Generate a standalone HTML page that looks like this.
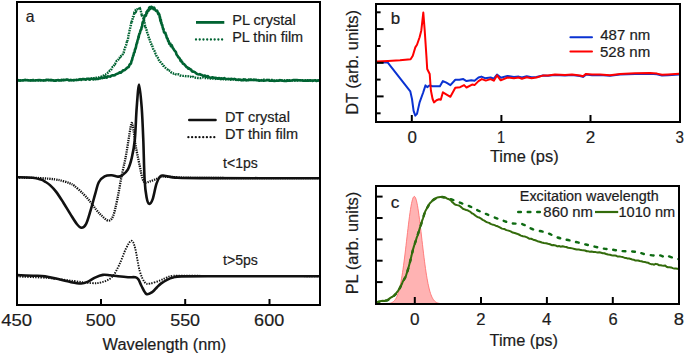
<!DOCTYPE html>
<html><head><meta charset="utf-8"><style>
html,body{margin:0;padding:0;background:#fff;width:685px;height:354px;overflow:hidden;font-family:"Liberation Sans",sans-serif;}
svg{display:block;}
</style></head><body>
<svg width="685" height="354" viewBox="0 0 685 354">
<rect width="685" height="354" fill="#fff"/>
<path d="M17.00,80.06 L18.20,80.33 L19.64,80.17 L21.29,80.38 L23.14,80.39 L25.15,79.88 L27.31,79.83 L29.59,80.56 L31.97,80.04 L34.43,80.01 L36.94,80.68 L39.48,80.20 L42.03,80.52 L44.57,80.19 L47.07,80.32 L49.51,79.87 L51.86,80.29 L54.11,80.48 L56.24,80.16 L58.21,80.34 L60.00,80.25 L61.67,79.69 L63.28,80.30 L64.84,80.13 L66.35,79.85 L67.80,79.59 L69.21,80.33 L70.57,79.96 L71.88,80.16 L73.15,80.29 L74.39,80.12 L75.58,80.28 L76.74,79.78 L77.87,80.12 L78.96,79.76 L80.03,80.17 L81.07,80.07 L82.08,79.32 L84.05,79.24 L85.92,79.17 L87.64,79.69 L89.19,79.02 L90.61,78.99 L91.91,78.47 L93.11,78.43 L94.23,78.07 L95.29,77.79 L96.31,77.76 L97.30,77.51 L98.29,77.56 L99.61,76.98 L100.77,76.84 L101.80,76.38 L102.75,76.10 L103.67,75.33 L104.59,74.33 L105.53,74.52 L106.44,74.08 L107.31,73.45 L108.15,72.49 L108.96,72.00 L109.74,70.75 L110.50,70.67 L111.22,69.53 L111.89,68.27 L112.53,67.01 L113.15,66.93 L113.76,66.09 L114.38,64.01 L115.01,63.98 L115.64,62.62 L116.27,61.43 L116.90,60.78 L117.53,60.60 L118.16,59.92 L118.79,57.95 L119.43,57.90 L120.11,56.27 L120.79,56.41 L121.47,55.02 L122.12,54.98 L122.74,54.25 L123.30,52.61 L123.80,52.38 L124.25,50.29 L124.66,48.86 L125.05,48.60 L125.41,46.57 L125.77,45.73 L126.12,44.98 L126.44,44.27 L126.74,42.45 L127.03,41.20 L127.31,41.55 L127.59,39.40 L127.89,39.29 L128.21,37.77 L128.43,35.78 L128.65,34.85 L128.86,33.84 L129.09,32.94 L129.32,31.69 L129.55,30.46 L129.79,29.44 L130.04,28.98 L130.30,27.01 L130.57,25.80 L130.86,25.34 L131.16,23.24 L131.46,22.30 L131.78,22.74 L132.09,20.71 L132.40,19.78 L132.86,17.16 L133.30,16.80 L133.72,16.04 L134.14,13.68 L134.54,14.14 L135.07,13.04 L135.60,10.64 L136.13,11.08 L136.66,9.78 L137.31,9.29 L138.08,7.70 L138.99,8.77 L139.65,9.75 L140.18,9.02 L140.70,10.29 L141.20,12.92 L141.69,14.76 L142.16,14.33 L142.51,15.80 L142.85,17.13 L143.18,17.55 L143.50,18.69 L143.79,19.60 L144.04,20.72 L144.28,22.22 L144.53,22.63 L144.81,23.94 L145.14,26.04 L145.54,25.92 L145.85,28.11 L146.18,29.60 L146.53,29.95 L146.90,31.04 L147.28,33.46 L147.67,33.66 L148.08,34.85 L148.48,36.58 L148.89,38.28 L149.31,38.36 L149.75,39.94 L150.21,41.15 L150.68,43.21 L151.16,43.70 L151.64,45.55 L152.11,45.52 L152.57,46.86 L153.00,48.37 L153.41,49.68 L153.96,50.24 L154.46,50.99 L154.92,51.81 L155.49,53.56 L156.01,54.09 L156.50,55.94 L156.98,56.96 L157.48,57.06 L158.10,58.23 L158.76,59.95 L159.37,60.63 L160.05,61.84 L160.80,62.28 L161.58,63.07 L162.39,64.30 L163.20,65.86 L164.02,66.12 L164.87,67.09 L165.75,68.04 L166.66,68.87 L167.59,69.64 L168.55,70.93 L169.53,70.73 L170.52,71.14 L171.54,72.66 L172.57,73.04 L173.65,73.57 L174.79,73.39 L175.98,74.33 L177.25,74.71 L178.57,74.39 L179.95,75.32 L181.38,75.78 L182.36,75.84 L183.37,75.92 L184.40,75.90 L185.46,76.15 L186.53,76.22 L187.94,76.29 L189.26,76.97 L190.66,76.83 L191.71,77.43 L192.94,76.80 L194.37,77.73 L196.08,77.65 L198.10,78.00 L199.24,78.05 L200.45,78.14 L201.73,77.92 L203.08,77.48 L204.49,78.26 L205.96,77.82 L207.48,78.03 L209.05,78.47 L210.66,78.44 L212.31,78.44 L213.99,79.03 L215.71,78.82 L217.45,78.67 L219.21,78.68 L220.99,79.33 L222.78,79.07 L224.59,79.43 L226.39,79.12 L228.20,79.05 L230.00,79.43 L231.81,79.75 L233.63,79.23 L235.48,79.85 L237.34,80.03 L239.22,79.98 L241.12,80.05 L243.04,79.36 L244.98,79.97 L246.95,80.23 L248.93,79.54 L250.94,79.78 L252.96,79.82 L255.01,80.09 L257.08,80.03 L259.18,80.11 L261.29,80.42 L263.43,79.76 L265.60,79.84 L267.79,79.93 L270.00,79.96 L272.31,79.94 L274.76,80.78 L277.33,80.70 L280.01,80.03 L282.77,80.43 L285.58,80.28 L288.44,80.29 L291.30,80.34 L294.17,80.62 L297.00,80.58 L299.78,80.39 L302.50,80.25 L305.11,80.39 L307.62,80.21 L309.98,80.61 L312.19,80.76 L314.22,80.47 L316.04,80.21 L317.64,80.30 L319.00,80.49 L319.00,80.69" fill="none" stroke="#006332" stroke-width="2.4" stroke-dasharray="1.6 1.0" />
<path d="M17.00,80.61 L18.20,80.16 L19.62,80.62 L21.24,80.42 L23.06,80.21 L25.03,80.14 L27.15,80.27 L29.39,80.50 L31.73,80.18 L34.15,80.48 L36.62,80.21 L39.14,79.97 L41.67,80.28 L44.20,80.44 L46.70,79.75 L49.16,80.12 L51.54,80.11 L53.84,80.59 L56.03,80.63 L58.09,79.99 L60.00,80.54 L61.82,80.39 L63.62,79.78 L65.40,79.97 L67.15,79.55 L68.88,80.27 L70.59,80.07 L72.26,80.27 L73.90,80.12 L75.50,79.94 L77.06,79.97 L78.59,79.73 L80.06,79.17 L81.50,79.66 L82.88,78.95 L84.21,79.06 L85.49,79.71 L86.71,78.84 L87.87,78.84 L88.97,78.80 L90.00,79.63 L90.95,78.79 L91.81,78.56 L93.29,79.39 L94.50,78.47 L95.48,79.18 L96.31,78.89 L97.36,78.91 L98.38,78.87 L99.54,78.26 L100.48,78.38 L101.42,77.37 L102.35,78.10 L103.28,77.67 L104.19,77.78 L105.10,76.92 L106.00,77.53 L106.89,77.59 L107.78,76.37 L108.66,76.49 L109.54,76.57 L110.42,76.66 L111.30,75.71 L112.18,75.38 L113.04,75.20 L113.90,75.37 L114.75,75.25 L115.59,74.49 L116.41,74.14 L117.21,73.84 L117.99,73.43 L118.76,73.14 L119.53,72.30 L120.28,72.44 L121.01,72.65 L121.73,71.46 L122.43,71.47 L123.11,70.22 L124.09,70.30 L125.00,69.76 L125.85,69.04 L126.66,68.23 L127.41,67.60 L128.12,67.22 L128.78,66.94 L129.40,65.04 L129.98,64.08 L130.49,64.13 L130.95,63.36 L131.37,61.62 L131.76,60.37 L132.13,59.74 L132.50,57.75 L132.84,56.87 L133.15,55.74 L133.43,55.46 L133.71,53.96 L133.99,52.78 L134.28,52.61 L134.61,52.02 L134.97,49.56 L135.22,49.61 L135.47,48.21 L135.72,48.31 L135.98,46.93 L136.24,45.41 L136.50,44.44 L136.75,43.14 L137.00,43.25 L137.25,42.12 L137.49,40.66 L137.74,40.08 L137.99,38.96 L138.23,38.99 L138.47,36.47 L138.71,37.53 L138.95,35.34 L139.18,34.75 L139.40,33.62 L139.72,33.51 L140.02,32.60 L140.32,31.15 L140.70,29.96 L140.99,29.81 L141.30,29.29 L141.61,27.02 L141.91,26.79 L142.12,26.63 L142.33,24.44 L142.54,22.93 L142.76,22.10 L142.98,22.64 L143.22,21.70 L143.47,21.73 L143.74,20.65 L144.03,18.03 L144.34,17.04 L144.67,16.41 L145.01,15.36 L145.34,16.14 L145.68,15.84 L146.15,14.92 L146.57,11.99 L147.03,13.02 L147.45,10.55 L147.99,10.27 L148.62,10.61 L149.16,7.87 L149.76,7.18 L150.40,9.00 L151.25,6.74 L152.15,7.09 L152.95,8.36 L153.57,9.22 L154.18,7.64 L154.78,9.30 L155.50,10.29 L156.30,11.01 L157.03,10.56 L157.70,12.28 L158.30,14.24 L158.74,13.42 L159.03,14.77 L159.31,14.41 L159.56,15.85 L159.80,17.94 L160.03,17.10 L160.29,20.24 L160.55,21.12 L160.82,19.62 L161.11,22.97 L161.42,22.34 L161.67,24.31 L161.95,25.19 L162.25,24.90 L162.56,26.98 L162.88,27.95 L163.19,29.35 L163.48,28.84 L163.76,30.96 L164.11,32.49 L164.46,32.60 L164.88,33.01 L165.36,32.81 L165.83,34.79 L166.27,35.52 L166.60,37.23 L166.94,38.01 L167.29,38.64 L167.66,38.65 L168.03,40.63 L168.39,41.44 L168.75,41.19 L169.27,43.77 L169.77,44.04 L170.27,43.52 L170.93,46.05 L171.61,45.13 L172.14,46.22 L172.69,47.85 L173.26,48.53 L173.86,49.45 L174.26,50.34 L174.67,50.68 L175.08,51.11 L175.49,51.56 L175.90,52.06 L176.50,54.31 L177.10,55.35 L177.70,55.93 L178.30,57.24 L178.90,57.49 L179.48,58.23 L180.04,59.28 L180.57,60.88 L181.15,60.33 L181.66,61.83 L182.20,62.11 L182.90,63.73 L183.60,63.77 L184.47,64.57 L185.14,65.30 L185.86,66.17 L186.61,67.18 L187.39,67.23 L188.19,68.63 L188.99,68.21 L189.77,69.05 L190.53,69.38 L191.26,69.91 L191.96,71.30 L192.65,71.66 L193.67,71.53 L194.70,72.09 L195.77,72.91 L196.51,73.67 L197.28,74.09 L198.10,74.32 L198.94,74.43 L199.79,74.16 L200.65,74.76 L201.54,74.78 L202.45,75.45 L203.40,75.75 L204.39,75.54 L205.43,75.84 L206.53,76.71 L207.70,76.03 L208.88,77.18 L210.06,77.50 L211.24,77.76 L212.47,77.29 L213.76,77.67 L215.14,77.89 L216.64,78.13 L217.44,78.62 L218.28,78.37 L219.16,78.01 L220.09,78.74 L221.07,78.39 L222.10,78.62 L223.18,78.85 L224.29,78.11 L225.44,79.08 L226.62,79.04 L227.84,78.94 L229.10,79.07 L230.39,79.09 L231.71,78.87 L233.06,79.34 L234.45,78.88 L235.87,79.48 L237.32,79.72 L238.80,79.58 L240.32,79.79 L241.86,80.30 L243.43,80.29 L245.03,79.53 L246.66,80.31 L248.32,80.18 L250.00,79.61 L251.74,79.99 L253.56,79.90 L255.45,79.76 L257.40,80.30 L259.41,80.76 L261.46,80.12 L263.54,80.75 L265.66,80.57 L267.79,79.98 L269.93,80.79 L272.07,80.52 L274.21,80.89 L276.33,80.67 L278.43,80.70 L280.49,80.28 L282.51,80.80 L284.48,80.94 L286.39,80.88 L288.23,80.42 L290.00,80.78 L291.73,80.50 L293.48,80.09 L295.22,80.03 L296.97,80.08 L298.70,80.22 L300.42,80.18 L302.12,80.56 L303.78,80.79 L305.41,80.61 L307.00,80.49 L308.54,80.74 L310.02,80.37 L311.43,80.55 L312.78,80.87 L314.05,80.48 L315.23,80.24 L316.33,81.03 L317.32,80.84 L318.22,80.45 L319.00,80.46" fill="none" stroke="#006332" stroke-width="2.6" stroke-linejoin="round" />
<path d="M17.00,177.60 C20.83,177.68 33.67,177.80 40.00,178.10 C46.33,178.40 51.15,178.90 55.00,179.40 C58.85,179.90 60.60,180.43 63.10,181.10 C65.60,181.77 68.17,182.65 70.00,183.40 C71.83,184.15 71.88,183.85 74.10,185.60 C76.32,187.35 80.55,191.13 83.30,193.90 C86.05,196.67 88.47,199.60 90.60,202.20 C92.73,204.80 94.28,207.28 96.10,209.50 C97.92,211.72 99.47,213.65 101.50,215.50 C103.53,217.35 106.38,220.48 108.30,220.60 C110.22,220.72 111.50,219.75 113.00,216.20 C114.50,212.65 115.88,205.88 117.30,199.30 C118.72,192.72 120.10,183.75 121.50,176.70 C122.90,169.65 124.53,163.12 125.70,157.00 C126.87,150.88 127.70,144.83 128.50,140.00 C129.30,135.17 129.95,130.83 130.50,128.00 C131.05,125.17 131.30,122.67 131.80,123.00 C132.30,123.33 132.85,126.17 133.50,130.00 C134.15,133.83 134.67,140.05 135.70,146.00 C136.73,151.95 138.57,160.28 139.70,165.70 C140.83,171.12 141.60,175.68 142.50,178.50 C143.40,181.32 143.85,182.13 145.10,182.60 C146.35,183.07 148.10,181.90 150.00,181.30 C151.90,180.70 154.67,179.75 156.50,179.00 C158.33,178.25 158.75,177.15 161.00,176.80 C163.25,176.45 163.50,176.72 170.00,176.90 C176.50,177.08 175.17,177.68 200.00,177.90 C224.83,178.12 299.17,178.15 319.00,178.20" fill="none" stroke="#111" stroke-width="2.3" stroke-dasharray="1.3 1.0" />
<path d="M17.00,177.20 C19.60,177.30 28.60,177.40 32.60,177.80 C36.60,178.20 38.93,178.97 41.00,179.60 C43.07,180.23 43.50,180.68 45.00,181.60 C46.50,182.52 48.17,183.43 50.00,185.10 C51.83,186.77 53.82,188.75 56.00,191.60 C58.18,194.45 60.70,198.45 63.10,202.20 C65.50,205.95 68.12,210.47 70.40,214.10 C72.68,217.73 74.97,221.72 76.80,224.00 C78.63,226.28 79.87,227.77 81.40,227.80 C82.93,227.83 84.47,227.10 86.00,224.20 C87.53,221.30 89.07,215.45 90.60,210.40 C92.13,205.35 93.82,198.63 95.20,193.90 C96.58,189.17 97.33,184.93 98.90,182.00 C100.47,179.07 102.48,177.42 104.60,176.30 C106.72,175.18 109.38,175.25 111.60,175.30 C113.82,175.35 116.18,176.55 117.90,176.60 C119.62,176.65 120.25,176.75 121.90,175.60 C123.55,174.45 126.15,172.67 127.80,169.70 C129.45,166.73 130.63,162.75 131.80,157.80 C132.97,152.85 133.98,148.35 134.80,140.00 C135.62,131.65 135.98,116.95 136.70,107.70 C137.42,98.45 138.27,84.50 139.10,84.50 C139.93,84.50 141.00,98.45 141.70,107.70 C142.40,116.95 142.82,128.02 143.30,140.00 C143.78,151.98 144.05,170.03 144.60,179.60 C145.15,189.17 145.83,193.37 146.60,197.40 C147.37,201.43 148.20,203.47 149.20,203.80 C150.20,204.13 151.38,202.77 152.60,199.40 C153.82,196.03 155.18,187.47 156.50,183.60 C157.82,179.73 159.17,177.52 160.50,176.20 C161.83,174.88 162.08,175.47 164.50,175.70 C166.92,175.93 169.08,177.20 175.00,177.60 C180.92,178.00 176.00,178.00 200.00,178.10 C224.00,178.20 299.17,178.18 319.00,178.20" fill="none" stroke="#111" stroke-width="2.6" stroke-linejoin="round" />
<path d="M17.00,276.50 C22.20,276.75 38.77,277.25 48.20,278.00 C57.63,278.75 66.40,280.15 73.60,281.00 C80.80,281.85 86.73,282.88 91.40,283.10 C96.07,283.32 98.20,283.28 101.60,282.30 C105.00,281.32 108.83,280.17 111.80,277.20 C114.77,274.23 117.03,269.28 119.40,264.50 C121.77,259.72 123.98,252.45 126.00,248.50 C128.02,244.55 129.97,240.80 131.50,240.80 C133.03,240.80 133.83,243.48 135.20,248.50 C136.57,253.52 138.10,265.27 139.70,270.90 C141.30,276.53 143.10,280.18 144.80,282.30 C146.50,284.42 147.35,283.90 149.90,283.60 C152.45,283.30 157.25,281.52 160.10,280.50 C162.95,279.48 164.30,278.30 167.00,277.50 C169.70,276.70 167.47,275.95 176.30,275.70 C185.13,275.45 196.22,275.92 220.00,276.00 C243.78,276.08 302.50,276.17 319.00,276.20" fill="none" stroke="#111" stroke-width="1.9" stroke-dasharray="1.4 1.2" />
<path d="M17.00,275.10 C20.07,275.20 30.73,275.48 35.40,275.70 C40.07,275.92 41.60,275.92 45.00,276.40 C48.40,276.88 51.45,277.63 55.80,278.60 C60.15,279.57 66.87,281.38 71.10,282.20 C75.33,283.02 78.38,283.60 81.20,283.50 C84.02,283.40 85.70,282.58 88.00,281.60 C90.30,280.62 92.52,278.72 95.00,277.60 C97.48,276.48 100.40,275.28 102.90,274.90 C105.40,274.52 107.48,275.07 110.00,275.30 C112.52,275.53 115.00,275.98 118.00,276.30 C121.00,276.62 125.08,277.03 128.00,277.20 C130.92,277.37 133.75,276.92 135.50,277.30 C137.25,277.68 137.50,278.05 138.50,279.50 C139.50,280.95 140.18,283.58 141.50,286.00 C142.82,288.42 144.57,293.03 146.40,294.00 C148.23,294.97 150.73,292.93 152.50,291.80 C154.27,290.67 155.55,288.60 157.00,287.20 C158.45,285.80 159.53,284.63 161.20,283.40 C162.87,282.17 165.02,280.78 167.00,279.80 C168.98,278.82 170.68,278.07 173.10,277.50 C175.52,276.93 173.68,276.62 181.50,276.40 C189.32,276.18 197.08,276.23 220.00,276.20 C242.92,276.17 302.50,276.20 319.00,276.20" fill="none" stroke="#111" stroke-width="2.6" stroke-linejoin="round" />
<rect x="17" y="2" width="303" height="303" fill="none" stroke="#000" stroke-width="2"/>
<line x1="101.0" y1="299" x2="101.0" y2="305" stroke="#000" stroke-width="2"/>
<line x1="185.2" y1="299" x2="185.2" y2="305" stroke="#000" stroke-width="2"/>
<line x1="269.5" y1="299" x2="269.5" y2="305" stroke="#000" stroke-width="2"/>
<line x1="196" y1="22.4" x2="224.3" y2="22.4" stroke="#006332" stroke-width="2.8"/>
<line x1="196.0" y1="39.5" x2="223.0" y2="39.5" stroke="#006332" stroke-width="2.3" stroke-linecap="round" stroke-dasharray="0.01 3.72"/>
<line x1="189.2" y1="120.0" x2="215.6" y2="120.0" stroke="#111" stroke-width="2.4" stroke-linecap="round"/>
<line x1="188.4" y1="137.2" x2="214.3" y2="137.2" stroke="#111" stroke-width="2.3" stroke-linecap="round" stroke-dasharray="0.01 3.69"/>
<text x="25.84" y="21.70" font-family="Liberation Sans, sans-serif" font-size="16.50" fill="#1c1c1c" stroke="#1c1c1c" stroke-width="0.2" textLength="8.76" lengthAdjust="spacingAndGlyphs">a</text>
<text x="232.20" y="24.80" font-family="Liberation Sans, sans-serif" font-size="14.60" fill="#1c1c1c" stroke="#1c1c1c" stroke-width="0.2" textLength="63.47" lengthAdjust="spacingAndGlyphs">PL crystal</text>
<text x="232.22" y="41.80" font-family="Liberation Sans, sans-serif" font-size="14.60" fill="#1c1c1c" stroke="#1c1c1c" stroke-width="0.2" textLength="70.94" lengthAdjust="spacingAndGlyphs">PL thin film</text>
<text x="224.91" y="122.00" font-family="Liberation Sans, sans-serif" font-size="14.00" fill="#1c1c1c" stroke="#1c1c1c" stroke-width="0.2" textLength="64.96" lengthAdjust="spacingAndGlyphs">DT crystal</text>
<text x="224.91" y="139.00" font-family="Liberation Sans, sans-serif" font-size="14.00" fill="#1c1c1c" stroke="#1c1c1c" stroke-width="0.2" textLength="73.15" lengthAdjust="spacingAndGlyphs">DT thin film</text>
<text x="223.09" y="167.70" font-family="Liberation Sans, sans-serif" font-size="14.50" fill="#1c1c1c" stroke="#1c1c1c" stroke-width="0.2" textLength="34.72" lengthAdjust="spacingAndGlyphs">t&lt;1ps</text>
<text x="222.99" y="264.50" font-family="Liberation Sans, sans-serif" font-size="14.30" fill="#1c1c1c" stroke="#1c1c1c" stroke-width="0.2" textLength="34.92" lengthAdjust="spacingAndGlyphs">t&gt;5ps</text>
<text x="1.27" y="326.40" font-family="Liberation Sans, sans-serif" font-size="17.00" fill="#1c1c1c" stroke="#1c1c1c" stroke-width="0.2" textLength="30.86" lengthAdjust="spacingAndGlyphs">450</text>
<text x="85.89" y="326.40" font-family="Liberation Sans, sans-serif" font-size="17.00" fill="#1c1c1c" stroke="#1c1c1c" stroke-width="0.2" textLength="29.82" lengthAdjust="spacingAndGlyphs">500</text>
<text x="170.24" y="326.40" font-family="Liberation Sans, sans-serif" font-size="17.00" fill="#1c1c1c" stroke="#1c1c1c" stroke-width="0.2" textLength="29.82" lengthAdjust="spacingAndGlyphs">550</text>
<text x="254.13" y="326.40" font-family="Liberation Sans, sans-serif" font-size="17.00" fill="#1c1c1c" stroke="#1c1c1c" stroke-width="0.2" textLength="30.03" lengthAdjust="spacingAndGlyphs">600</text>
<text x="102.62" y="349.50" font-family="Liberation Sans, sans-serif" font-size="16.00" fill="#1c1c1c" stroke="#1c1c1c" stroke-width="0.2" textLength="123.69" lengthAdjust="spacingAndGlyphs">Wavelength (nm)</text>
<path d="M377.00,62.30 L387.60,62.40 L410.30,91.40 L412.00,99.00 L413.60,110.80 L415.30,115.60 L417.00,113.90 L419.60,102.40 L423.00,93.00 L425.50,85.40 L427.20,87.10 L429.70,85.40 L432.30,86.30 L439.90,86.30 L442.90,81.10 L446.40,82.70 L450.40,85.10 L455.30,79.80 L459.30,79.80 L463.30,79.10 L466.50,81.10 L471.30,80.30 L474.50,80.70 L478.50,77.50 L481.40,76.60 L485.00,78.20 L490.60,77.50 L493.80,78.70 L497.00,74.60 L501.00,77.80 L507.40,75.90 L513.90,77.00 L518.70,76.60 L521.90,77.50 L526.70,76.20 L531.50,77.20 L536.40,77.00 L542.80,75.60 L548.00,75.80 L555.00,74.90 L565.00,75.50 L572.00,75.10 L580.00,76.00 L583.00,76.90 L586.00,74.60 L592.00,75.20 L600.00,75.00 L610.00,75.80 L620.00,74.60 L635.00,73.90 L650.00,73.80 L657.00,74.30 L662.00,75.60 L668.00,75.30 L679.00,74.50" fill="none" stroke="#0a32d2" stroke-width="2" stroke-linejoin="round"/>
<path d="M377.00,61.60 L388.00,61.00 L400.00,60.30 L410.60,59.30 L412.80,55.80 L415.30,47.40 L417.00,44.80 L419.60,37.20 L421.30,30.40 L423.30,12.60 L424.70,30.40 L426.40,55.80 L427.20,69.00 L429.70,74.00 L430.90,90.50 L432.60,99.00 L434.00,102.40 L436.50,100.30 L439.10,99.30 L440.80,99.80 L442.90,92.30 L450.40,96.80 L455.30,87.80 L460.10,87.20 L464.10,85.10 L466.50,87.50 L472.10,84.60 L474.50,85.10 L478.50,81.10 L481.80,79.10 L485.80,80.60 L490.60,79.10 L493.80,80.70 L497.00,75.40 L500.70,80.30 L507.40,77.50 L513.90,78.20 L518.70,77.50 L521.90,78.70 L526.70,77.20 L531.50,78.20 L536.40,77.50 L542.80,75.60 L548.00,75.40 L555.00,74.40 L565.00,75.00 L572.00,74.60 L580.00,75.50 L583.00,76.30 L586.00,73.90 L592.00,74.60 L600.00,74.40 L610.00,75.20 L620.00,74.00 L635.00,73.20 L650.00,73.10 L657.00,73.60 L662.00,74.80 L668.00,74.50 L679.00,73.80" fill="none" stroke="#ff0000" stroke-width="2" stroke-linejoin="round"/>
<rect x="376" y="4" width="304" height="118" fill="none" stroke="#000" stroke-width="2"/>
<line x1="376" y1="12.3" x2="380.6" y2="12.3" stroke="#000" stroke-width="2"/>
<line x1="376" y1="29.1" x2="383.6" y2="29.1" stroke="#000" stroke-width="2"/>
<line x1="376" y1="46.0" x2="380.6" y2="46.0" stroke="#000" stroke-width="2"/>
<line x1="376" y1="62.8" x2="383.6" y2="62.8" stroke="#000" stroke-width="2"/>
<line x1="376" y1="79.6" x2="380.6" y2="79.6" stroke="#000" stroke-width="2"/>
<line x1="376" y1="96.4" x2="383.6" y2="96.4" stroke="#000" stroke-width="2"/>
<line x1="376" y1="113.3" x2="380.6" y2="113.3" stroke="#000" stroke-width="2"/>
<line x1="411.8" y1="115.0" x2="411.8" y2="122" stroke="#000" stroke-width="2"/>
<line x1="501.4" y1="115.0" x2="501.4" y2="122" stroke="#000" stroke-width="2"/>
<line x1="590.5" y1="115.0" x2="590.5" y2="122" stroke="#000" stroke-width="2"/>
<text x="407.39" y="142.90" font-family="Liberation Sans, sans-serif" font-size="17.00" fill="#1c1c1c" stroke="#1c1c1c" stroke-width="0.2" textLength="9.42" lengthAdjust="spacingAndGlyphs">0</text>
<text x="496.94" y="142.90" font-family="Liberation Sans, sans-serif" font-size="17.00" fill="#1c1c1c" stroke="#1c1c1c" stroke-width="0.2" textLength="8.13" lengthAdjust="spacingAndGlyphs">1</text>
<text x="585.74" y="142.90" font-family="Liberation Sans, sans-serif" font-size="17.00" fill="#1c1c1c" stroke="#1c1c1c" stroke-width="0.2" textLength="9.51" lengthAdjust="spacingAndGlyphs">2</text>
<text x="675.42" y="142.90" font-family="Liberation Sans, sans-serif" font-size="17.00" fill="#1c1c1c" stroke="#1c1c1c" stroke-width="0.2" textLength="8.45" lengthAdjust="spacingAndGlyphs">3</text>
<text x="489.94" y="161.80" font-family="Liberation Sans, sans-serif" font-size="16.00" fill="#1c1c1c" stroke="#1c1c1c" stroke-width="0.2" textLength="68.68" lengthAdjust="spacingAndGlyphs">Time (ps)</text>
<text x="390.70" y="23.50" font-family="Liberation Sans, sans-serif" font-size="16.00" fill="#1c1c1c" stroke="#1c1c1c" stroke-width="0.2" textLength="9.41" lengthAdjust="spacingAndGlyphs">b</text>
<line x1="570.4" y1="37.3" x2="592.0" y2="37.3" stroke="#0a32d2" stroke-width="2" stroke-linecap="round"/>
<line x1="570.4" y1="51.4" x2="592.0" y2="51.4" stroke="#ff0000" stroke-width="2" stroke-linecap="round"/>
<text x="600.26" y="39.80" font-family="Liberation Sans, sans-serif" font-size="14.40" fill="#1c1c1c" stroke="#1c1c1c" stroke-width="0.2" textLength="49.94" lengthAdjust="spacingAndGlyphs">487 nm</text>
<text x="600.00" y="57.00" font-family="Liberation Sans, sans-serif" font-size="14.40" fill="#1c1c1c" stroke="#1c1c1c" stroke-width="0.2" textLength="50.20" lengthAdjust="spacingAndGlyphs">528 nm</text>
<text transform="translate(358.20,114.85) rotate(-90)" x="0" y="0" font-family="Liberation Sans, sans-serif" font-size="16.40" fill="#1c1c1c" stroke="#1c1c1c" stroke-width="0.2" textLength="104.87" lengthAdjust="spacingAndGlyphs">DT (arb. units)</text>
<path d="M377.00,303.80 L377.50,303.80 L378.00,303.80 L378.50,303.80 L379.00,303.80 L379.50,303.80 L380.00,303.80 L380.50,303.80 L381.00,303.79 L381.50,303.79 L382.00,303.79 L382.50,303.79 L383.00,303.78 L383.50,303.78 L384.00,303.77 L384.50,303.76 L385.00,303.75 L385.50,303.73 L386.00,303.71 L386.50,303.69 L387.00,303.66 L387.50,303.62 L388.00,303.57 L388.50,303.51 L389.00,303.44 L389.50,303.35 L390.00,303.24 L390.50,303.10 L391.00,302.94 L391.50,302.74 L392.00,302.51 L392.50,302.23 L393.00,301.90 L393.50,301.50 L394.00,301.04 L394.50,300.51 L395.00,299.88 L395.50,299.16 L396.00,298.33 L396.50,297.37 L397.00,296.29 L397.50,295.06 L398.00,293.68 L398.50,292.12 L399.00,290.39 L399.50,288.47 L400.00,286.36 L400.50,284.04 L401.00,281.51 L401.50,278.77 L402.00,275.81 L402.50,272.65 L403.00,269.28 L403.50,265.72 L404.00,261.97 L404.50,258.06 L405.00,254.01 L405.50,249.84 L406.00,245.58 L406.50,241.26 L407.00,236.92 L407.50,232.60 L408.00,228.33 L408.50,224.16 L409.00,220.13 L409.50,216.29 L410.00,212.68 L410.50,209.34 L411.00,206.31 L411.50,203.63 L412.00,201.33 L412.50,199.45 L413.00,198.00 L413.50,197.01 L414.00,196.49 L414.50,196.44 L415.00,196.87 L415.50,197.77 L416.00,199.12 L416.50,200.92 L417.00,203.14 L417.50,205.74 L418.00,208.71 L418.50,211.99 L419.00,215.55 L419.50,219.35 L420.00,223.34 L420.50,227.48 L421.00,231.74 L421.50,236.05 L422.00,240.40 L422.50,244.72 L423.00,249.00 L423.50,253.19 L424.00,257.27 L424.50,261.20 L425.00,264.98 L425.50,268.58 L426.00,271.99 L426.50,275.20 L427.00,278.19 L427.50,280.98 L428.00,283.55 L428.50,285.91 L429.00,288.07 L429.50,290.02 L430.00,291.79 L430.50,293.38 L431.00,294.80 L431.50,296.06 L432.00,297.17 L432.50,298.15 L433.00,299.00 L433.50,299.75 L434.00,300.39 L434.50,300.94 L435.00,301.42 L435.50,301.82 L436.00,302.17 L436.50,302.46 L437.00,302.70 L437.50,302.90 L438.00,303.07 L438.50,303.21 L439.00,303.33 L439.50,303.42 L440.00,303.50 L440.50,303.56 L441.00,303.61 L441.50,303.65 L442.00,303.68 L442.50,303.71 L443.00,303.73 L443.50,303.75 L444.00,303.76 L444.50,303.77 L445.00,303.78 L445.50,303.78 L446.00,303.79 L446.50,303.79 L447.00,303.79 L447.50,303.79 L448.00,303.80 L448.50,303.80 L449.00,303.80 L449.50,303.80 L450.00,303.80 L450.50,303.80 L451.00,303.80 L451.50,303.80 L452.00,303.80 L452.50,303.80 L453.00,303.80 L453.50,303.80 L454.00,303.80 L454.50,303.80 L455.00,303.80 L455.50,303.80 L456.00,303.80 L456.50,303.80 L457.00,303.80 L457.50,303.80 L458.00,303.80 L458.50,303.80 L459.00,303.80 L459.50,303.80 L460.00,303.80 Z" fill="#ffb3b3" stroke="none"/>
<path d="M377.00,303.80 L377.50,303.80 L378.00,303.80 L378.50,303.80 L379.00,303.80 L379.50,303.80 L380.00,303.80 L380.50,303.80 L381.00,303.79 L381.50,303.79 L382.00,303.79 L382.50,303.79 L383.00,303.78 L383.50,303.78 L384.00,303.77 L384.50,303.76 L385.00,303.75 L385.50,303.73 L386.00,303.71 L386.50,303.69 L387.00,303.66 L387.50,303.62 L388.00,303.57 L388.50,303.51 L389.00,303.44 L389.50,303.35 L390.00,303.24 L390.50,303.10 L391.00,302.94 L391.50,302.74 L392.00,302.51 L392.50,302.23 L393.00,301.90 L393.50,301.50 L394.00,301.04 L394.50,300.51 L395.00,299.88 L395.50,299.16 L396.00,298.33 L396.50,297.37 L397.00,296.29 L397.50,295.06 L398.00,293.68 L398.50,292.12 L399.00,290.39 L399.50,288.47 L400.00,286.36 L400.50,284.04 L401.00,281.51 L401.50,278.77 L402.00,275.81 L402.50,272.65 L403.00,269.28 L403.50,265.72 L404.00,261.97 L404.50,258.06 L405.00,254.01 L405.50,249.84 L406.00,245.58 L406.50,241.26 L407.00,236.92 L407.50,232.60 L408.00,228.33 L408.50,224.16 L409.00,220.13 L409.50,216.29 L410.00,212.68 L410.50,209.34 L411.00,206.31 L411.50,203.63 L412.00,201.33 L412.50,199.45 L413.00,198.00 L413.50,197.01 L414.00,196.49 L414.50,196.44 L415.00,196.87 L415.50,197.77 L416.00,199.12 L416.50,200.92 L417.00,203.14 L417.50,205.74 L418.00,208.71 L418.50,211.99 L419.00,215.55 L419.50,219.35 L420.00,223.34 L420.50,227.48 L421.00,231.74 L421.50,236.05 L422.00,240.40 L422.50,244.72 L423.00,249.00 L423.50,253.19 L424.00,257.27 L424.50,261.20 L425.00,264.98 L425.50,268.58 L426.00,271.99 L426.50,275.20 L427.00,278.19 L427.50,280.98 L428.00,283.55 L428.50,285.91 L429.00,288.07 L429.50,290.02 L430.00,291.79 L430.50,293.38 L431.00,294.80 L431.50,296.06 L432.00,297.17 L432.50,298.15 L433.00,299.00 L433.50,299.75 L434.00,300.39 L434.50,300.94 L435.00,301.42 L435.50,301.82 L436.00,302.17 L436.50,302.46 L437.00,302.70 L437.50,302.90 L438.00,303.07 L438.50,303.21 L439.00,303.33 L439.50,303.42 L440.00,303.50 L440.50,303.56 L441.00,303.61 L441.50,303.65 L442.00,303.68 L442.50,303.71 L443.00,303.73 L443.50,303.75 L444.00,303.76 L444.50,303.77 L445.00,303.78 L445.50,303.78 L446.00,303.79 L446.50,303.79 L447.00,303.79 L447.50,303.79 L448.00,303.80 L448.50,303.80 L449.00,303.80 L449.50,303.80 L450.00,303.80 L450.50,303.80 L451.00,303.80 L451.50,303.80 L452.00,303.80 L452.50,303.80 L453.00,303.80 L453.50,303.80 L454.00,303.80 L454.50,303.80 L455.00,303.80 L455.50,303.80 L456.00,303.80 L456.50,303.80 L457.00,303.80 L457.50,303.80 L458.00,303.80 L458.50,303.80 L459.00,303.80 L459.50,303.80 L460.00,303.80" fill="none" stroke="#ff7373" stroke-width="0.9"/>
<path d="M376.50,302.40 C377.42,302.18 380.25,301.43 382.00,301.10 C383.75,300.77 385.60,300.90 387.00,300.40 C388.40,299.90 389.20,298.90 390.40,298.10 C391.60,297.30 393.13,296.52 394.20,295.60 C395.27,294.68 395.88,293.80 396.80,292.60 C397.72,291.40 398.67,290.25 399.70,288.40 C400.73,286.55 401.93,283.67 403.00,281.50 C404.07,279.33 405.02,278.32 406.10,275.40 C407.18,272.48 408.37,268.23 409.50,264.00 C410.63,259.77 411.65,254.50 412.90,250.00 C414.15,245.50 415.63,241.27 417.00,237.00 C418.37,232.73 419.77,228.57 421.10,224.40 C422.43,220.23 423.85,215.00 425.00,212.00 C426.15,209.00 426.95,208.13 428.00,206.40 C429.05,204.67 429.82,203.03 431.30,201.60 C432.78,200.17 435.02,198.57 436.90,197.80 C438.78,197.03 440.90,196.90 442.60,197.00 C444.30,197.10 445.42,197.93 447.10,198.40 C448.78,198.87 450.45,199.05 452.70,199.80 C454.95,200.55 457.77,201.82 460.60,202.90 C463.43,203.98 466.87,205.07 469.70,206.30 C472.53,207.53 474.78,208.98 477.60,210.30 C480.42,211.62 482.87,212.67 486.60,214.20 C490.33,215.73 495.82,217.98 500.00,219.50 C504.18,221.02 508.03,222.55 511.70,223.30 C515.37,224.05 518.58,223.05 522.00,224.00 C525.42,224.95 528.12,227.55 532.20,229.00 C536.28,230.45 542.32,231.30 546.50,232.70 C550.68,234.10 553.47,236.12 557.30,237.40 C561.13,238.68 564.73,239.22 569.50,240.40 C574.27,241.58 580.32,243.15 585.90,244.50 C591.48,245.85 598.65,247.65 603.00,248.50 C607.35,249.35 609.00,249.18 612.00,249.60 C615.00,250.02 618.00,250.70 621.00,251.00 C624.00,251.30 627.17,251.20 630.00,251.40 C632.83,251.60 635.50,251.72 638.00,252.20 C640.50,252.68 642.17,253.73 645.00,254.30 C647.83,254.87 652.50,255.42 655.00,255.60 C657.50,255.78 658.50,255.22 660.00,255.40 C661.50,255.58 662.83,256.62 664.00,256.70 C665.17,256.78 665.67,255.78 667.00,255.90 C668.33,256.02 670.08,256.88 672.00,257.40 C673.92,257.92 677.42,258.73 678.50,259.00" fill="none" stroke="#0e6b12" stroke-width="2.4" stroke-linecap="round" stroke-dasharray="2.7 6.8"/>
<path d="M376.50,302.42 L378.04,302.08 L379.57,301.45 L381.15,300.93 L382.79,300.77 L384.37,301.03 L385.87,300.42 L387.40,300.21 L388.78,299.15 L390.05,298.14 L391.35,297.27 L392.75,296.58 L394.04,295.50 L395.19,294.30 L396.16,293.17 L397.08,292.01 L398.06,290.94 L398.94,289.36 L399.86,287.78 L400.67,286.47 L401.34,285.00 L402.01,283.74 L402.68,281.86 L403.47,280.52 L404.24,279.18 L405.00,277.56 L405.78,276.55 L406.43,274.29 L406.93,272.70 L407.44,271.33 L407.95,269.37 L408.47,267.86 L408.99,265.79 L409.50,263.74 L410.00,261.72 L410.50,260.12 L410.99,257.66 L411.49,255.85 L412.00,253.47 L412.53,251.67 L413.09,249.19 L413.68,247.15 L414.28,245.20 L414.91,243.63 L415.54,241.57 L416.17,239.45 L416.79,237.36 L417.41,235.85 L418.03,234.15 L418.65,231.99 L419.27,229.69 L419.88,227.82 L420.50,225.99 L421.10,224.17 L421.70,222.14 L422.31,220.14 L422.92,218.54 L423.51,216.74 L424.09,214.41 L424.65,213.30 L425.34,211.14 L425.96,210.01 L426.82,208.55 L427.69,207.21 L428.60,205.05 L429.49,203.75 L430.49,202.56 L431.53,201.70 L432.81,200.00 L434.25,199.11 L435.74,198.60 L437.18,197.42 L438.64,197.19 L440.40,196.90 L442.08,197.10 L443.59,197.43 L445.22,197.40 L446.70,198.41 L448.17,198.96 L449.60,199.71 L450.91,200.49 L452.04,201.92 L453.23,202.85 L454.37,204.05 L455.73,204.74 L457.33,205.13 L458.80,205.42 L460.07,206.25 L461.43,207.35 L462.90,208.75 L464.50,209.37 L466.20,210.00 L467.64,210.30 L469.06,211.12 L470.44,211.83 L471.84,213.27 L473.28,213.85 L474.82,215.17 L476.36,216.30 L477.98,217.18 L479.40,217.56 L481.00,218.52 L482.67,219.85 L484.38,220.64 L485.78,221.55 L487.36,222.34 L489.17,222.91 L490.55,223.85 L492.09,224.41 L493.81,224.86 L495.69,225.67 L497.69,226.29 L499.79,227.37 L501.95,228.63 L504.15,228.91 L506.36,230.10 L508.54,230.62 L510.67,231.42 L512.72,232.59 L514.77,233.07 L516.82,233.68 L518.87,234.50 L520.92,235.58 L522.98,236.26 L525.03,236.57 L527.08,237.43 L529.13,238.63 L531.18,238.77 L533.23,239.67 L535.34,240.24 L537.49,241.16 L539.65,241.70 L541.81,242.47 L543.94,242.92 L546.03,243.27 L548.04,243.82 L549.95,244.25 L551.75,245.23 L553.40,245.11 L555.52,245.46 L557.34,246.38 L558.99,246.01 L560.65,246.65 L562.47,246.28 L564.60,246.84 L566.26,246.96 L568.12,247.72 L570.13,247.96 L572.26,248.39 L574.46,248.91 L576.68,249.43 L578.89,249.50 L581.04,250.10 L583.10,250.37 L585.01,250.48 L586.75,251.27 L588.40,251.35 L589.97,251.71 L591.47,251.47 L593.61,251.94 L595.62,252.11 L597.54,252.51 L599.40,252.31 L601.17,252.79 L602.79,253.20 L604.30,253.23 L606.20,254.00 L608.07,254.56 L610.00,254.75 L611.55,255.19 L613.16,255.45 L614.78,255.45 L616.36,255.82 L617.85,256.53 L619.61,256.40 L621.32,256.87 L622.81,257.09 L624.30,257.65 L626.03,257.92 L627.62,258.58 L629.13,258.55 L630.73,258.92 L632.16,259.45 L633.58,259.68 L635.03,260.45 L636.51,260.49 L638.06,260.43 L639.71,260.96 L641.39,261.29 L643.06,261.75 L644.82,261.90 L646.53,262.57 L648.00,262.73 L649.51,263.63 L651.05,264.13 L652.59,264.17 L654.16,264.68 L655.67,263.86 L657.29,264.15 L658.91,265.17 L660.47,265.23 L662.02,265.51 L663.62,265.68 L665.20,265.54 L666.54,266.76 L667.87,267.30 L669.42,267.23 L671.07,267.43 L672.69,268.16 L674.30,268.61 L675.85,268.61 L677.42,268.70 L678.50,268.96" fill="none" stroke="#336b0b" stroke-width="2.0" stroke-linejoin="round"/>
<rect x="376" y="186" width="303" height="118" fill="none" stroke="#000" stroke-width="2"/>
<line x1="376" y1="196.6" x2="382.6" y2="196.6" stroke="#000" stroke-width="2"/>
<line x1="376" y1="218.0" x2="382.6" y2="218.0" stroke="#000" stroke-width="2"/>
<line x1="376" y1="239.4" x2="382.6" y2="239.4" stroke="#000" stroke-width="2"/>
<line x1="376" y1="260.7" x2="382.6" y2="260.7" stroke="#000" stroke-width="2"/>
<line x1="376" y1="282.1" x2="382.6" y2="282.1" stroke="#000" stroke-width="2"/>
<line x1="414.8" y1="297.0" x2="414.8" y2="304" stroke="#000" stroke-width="2"/>
<line x1="481.0" y1="297.0" x2="481.0" y2="304" stroke="#000" stroke-width="2"/>
<line x1="546.9" y1="297.0" x2="546.9" y2="304" stroke="#000" stroke-width="2"/>
<line x1="612.8" y1="297.0" x2="612.8" y2="304" stroke="#000" stroke-width="2"/>
<text x="409.98" y="325.30" font-family="Liberation Sans, sans-serif" font-size="17.00" fill="#1c1c1c" stroke="#1c1c1c" stroke-width="0.2" textLength="9.54" lengthAdjust="spacingAndGlyphs">0</text>
<text x="476.37" y="325.30" font-family="Liberation Sans, sans-serif" font-size="17.00" fill="#1c1c1c" stroke="#1c1c1c" stroke-width="0.2" textLength="9.27" lengthAdjust="spacingAndGlyphs">2</text>
<text x="542.06" y="325.30" font-family="Liberation Sans, sans-serif" font-size="17.00" fill="#1c1c1c" stroke="#1c1c1c" stroke-width="0.2" textLength="9.38" lengthAdjust="spacingAndGlyphs">4</text>
<text x="608.46" y="325.30" font-family="Liberation Sans, sans-serif" font-size="17.00" fill="#1c1c1c" stroke="#1c1c1c" stroke-width="0.2" textLength="9.17" lengthAdjust="spacingAndGlyphs">6</text>
<text x="673.65" y="325.30" font-family="Liberation Sans, sans-serif" font-size="17.00" fill="#1c1c1c" stroke="#1c1c1c" stroke-width="0.2" textLength="10.29" lengthAdjust="spacingAndGlyphs">8</text>
<text x="489.54" y="345.70" font-family="Liberation Sans, sans-serif" font-size="16.00" fill="#1c1c1c" stroke="#1c1c1c" stroke-width="0.2" textLength="68.48" lengthAdjust="spacingAndGlyphs">Time (ps)</text>
<text x="390.88" y="207.70" font-family="Liberation Sans, sans-serif" font-size="16.00" fill="#1c1c1c" stroke="#1c1c1c" stroke-width="0.2" textLength="8.56" lengthAdjust="spacingAndGlyphs">c</text>
<text x="519.82" y="200.80" font-family="Liberation Sans, sans-serif" font-size="14.00" fill="#1c1c1c" stroke="#1c1c1c" stroke-width="0.2" textLength="138.92" lengthAdjust="spacingAndGlyphs">Excitation wavelength</text>
<line x1="518.2" y1="212" x2="542" y2="212" stroke="#0e6b12" stroke-width="2.4" stroke-linecap="round" stroke-dasharray="2.7 6.8"/>
<text x="543.36" y="216.80" font-family="Liberation Sans, sans-serif" font-size="14.00" fill="#1c1c1c" stroke="#1c1c1c" stroke-width="0.2" textLength="49.63" lengthAdjust="spacingAndGlyphs">860 nm</text>
<line x1="595" y1="212" x2="618.2" y2="212" stroke="#336b0b" stroke-width="2.2"/>
<text x="618.49" y="216.80" font-family="Liberation Sans, sans-serif" font-size="14.00" fill="#1c1c1c" stroke="#1c1c1c" stroke-width="0.2" textLength="56.66" lengthAdjust="spacingAndGlyphs">1010 nm</text>
<text transform="translate(357.80,294.35) rotate(-90)" x="0" y="0" font-family="Liberation Sans, sans-serif" font-size="16.20" fill="#1c1c1c" stroke="#1c1c1c" stroke-width="0.2" textLength="102.47" lengthAdjust="spacingAndGlyphs">PL (arb. units)</text>
</svg>
</body></html>
